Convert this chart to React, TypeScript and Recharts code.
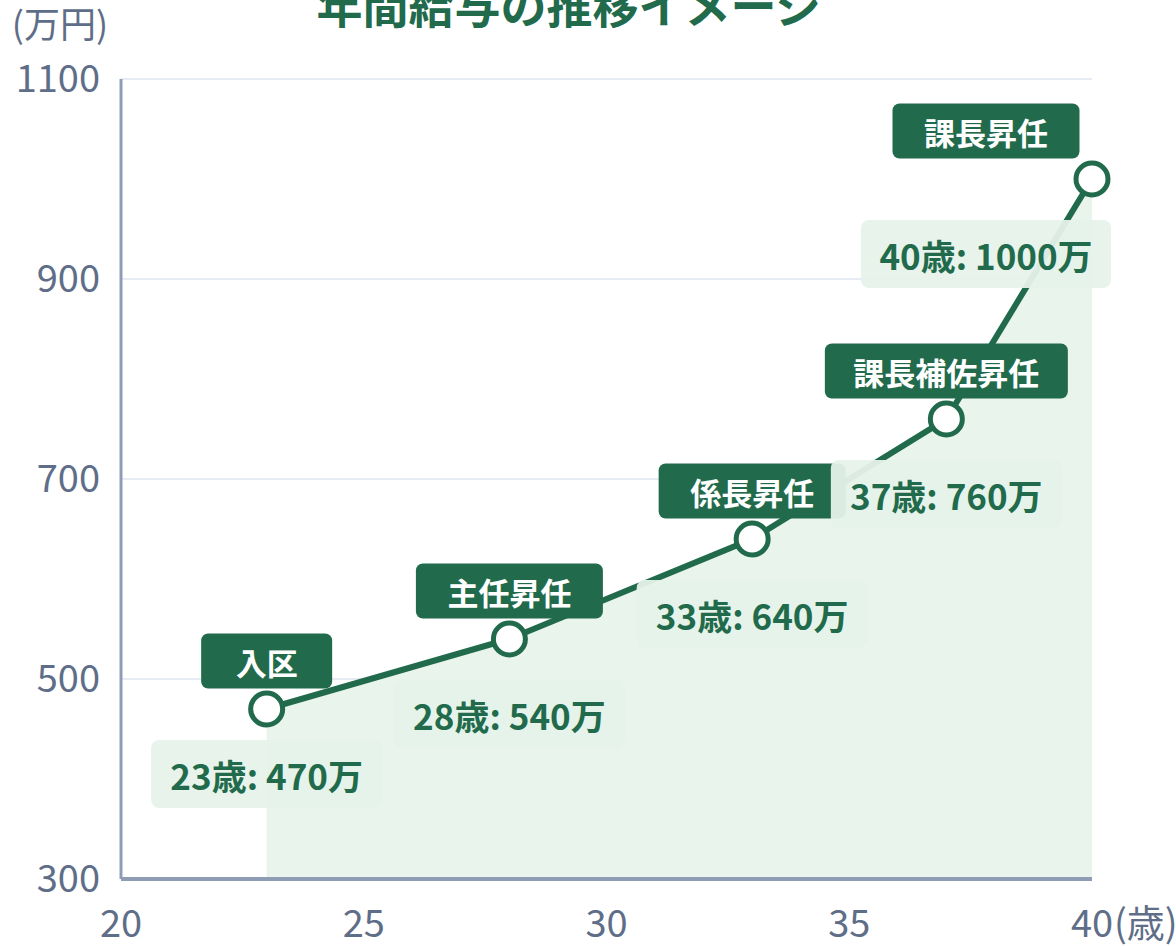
import { ComposedChart, Area, Line, XAxis, YAxis, CartesianGrid, LabelList } from "recharts";

const ages = [23, 28, 33, 37, 40];
const salaries = [470, 540, 640, 760, 1000];
const events = ["入区", "主任昇任", "係長昇任", "課長補佐昇任", "課長昇任"];
const xTicks = [20, 25, 30, 35, 40];
const yTicks = [300, 500, 700, 900, 1100];

const data = ages.map((age, i) => ({ age, salary: salaries[i], event: events[i] }));

const GREEN = "#216b4c";
const LIGHT = "#e9f4ec";
const AXIS = "#8e9db5";
const TICK = "#5f6e88";
const FONT = "'Noto Sans CJK JP', 'Noto Sans', sans-serif";
const PLOT_RIGHT = 1092;

// keep boxes for the last point inside the plot
const boxX = (x: number) => Math.min(x, PLOT_RIGHT - 106);

const textWidth = (s: string, digit: number, cjk: number) =>
  [...s].reduce((w, c) => w + (/[0-9]/.test(c) ? digit : c === ":" ? 12 : c === " " ? 10 : cjk), 0);

function EventLabel(props: any) {
  const { x, y, value } = props;
  const n = String(value).length;
  const w = n * 28 + 75;
  const h = 55;
  const cx = boxX(x);
  const cy = y - 48;
  return (
    <g>
      <rect x={cx - w / 2} y={cy - h / 2} width={w} height={h} rx={7} fill={GREEN} />
      <text x={cx} y={cy} textAnchor="middle" dominantBaseline="central" fill="#fff"
        fontFamily={FONT} fontWeight={700} fontSize={31}>
        {value}
      </text>
    </g>
  );
}

function ValueLabel(props: any) {
  const { x, y, value, index } = props;
  const label = `${ages[index]}歳: ${value}万`;
  const w = textWidth(label, 19, 36) + 42;
  const h = 68;
  const cx = boxX(x);
  const cy = y + (index === 0 ? 65 : 75);
  return (
    <g>
      <rect x={cx - w / 2} y={cy - h / 2} width={w} height={h} rx={8} fill="#e6f2ea" fillOpacity={0.95} />
      <text x={cx} y={cy} textAnchor="middle" dominantBaseline="central" fill={GREEN}
        fontFamily={FONT} fontWeight={700} fontSize={35}>
        {label}
      </text>
    </g>
  );
}

function XTick(props: any) {
  const { x, y, payload } = props;
  const last = payload.value === xTicks[xTicks.length - 1];
  return (
    <g>
      <text x={x} y={y} dy="0.71em" textAnchor="middle" fill={TICK} fontFamily={FONT} fontSize={38}>
        {payload.value}
      </text>
      {last && (
        <text x={x + 22} y={y} dy="0.71em" textAnchor="start" fill={TICK} fontFamily={FONT} fontSize={38}>
          (歳)
        </text>
      )}
    </g>
  );
}

export default function App() {
  return (
    <div style={{ position: "absolute", left: 0, top: 0, width: 1176, height: 946, background: "#fff" }}>
      <ComposedChart width={1176} height={946} data={data} margin={{ top: 79, right: 84, bottom: 0, left: 0 }}>
        <CartesianGrid vertical={false} stroke="#e7ebf3" strokeWidth={2} />
        <XAxis
          dataKey="age"
          type="number"
          domain={[20, 40]}
          ticks={xTicks}
          height={67}
          tickLine={false}
          tickMargin={25}
          axisLine={{ stroke: AXIS, strokeWidth: 4 }}
          tick={<XTick />}
          interval={0}
        />
        <YAxis
          type="number"
          domain={[300, 1100]}
          ticks={yTicks}
          width={121}
          tickLine={false}
          tickMargin={15}
          axisLine={{ stroke: AXIS, strokeWidth: 3 }}
          tick={{ fill: TICK, fontSize: 38, fontFamily: FONT }}
          interval={0}
        />
        <Area dataKey="salary" type="linear" stroke="none" fill={LIGHT} fillOpacity={1} isAnimationActive={false} />
        <Line
          dataKey="salary"
          type="linear"
          stroke={GREEN}
          strokeWidth={6}
          dot={{ r: 16, fill: "#fff", stroke: GREEN, strokeWidth: 5 }}
          activeDot={false}
          isAnimationActive={false}
        >
          <LabelList dataKey="event" content={<EventLabel />} />
          <LabelList dataKey="salary" content={<ValueLabel />} />
        </Line>
      </ComposedChart>
      <svg width={1176} height={946} style={{ position: "absolute", left: 0, top: 0, pointerEvents: "none" }}>
        <text x={569} y={23} textAnchor="middle" fill={GREEN} fontFamily={FONT} fontWeight={700} fontSize={46}>
          年間給与の推移イメージ
        </text>
        <text x={60} y={38} textAnchor="middle" fill={TICK} fontFamily={FONT} fontSize={36}>
          (万円)
        </text>
      </svg>
    </div>
  );
}
